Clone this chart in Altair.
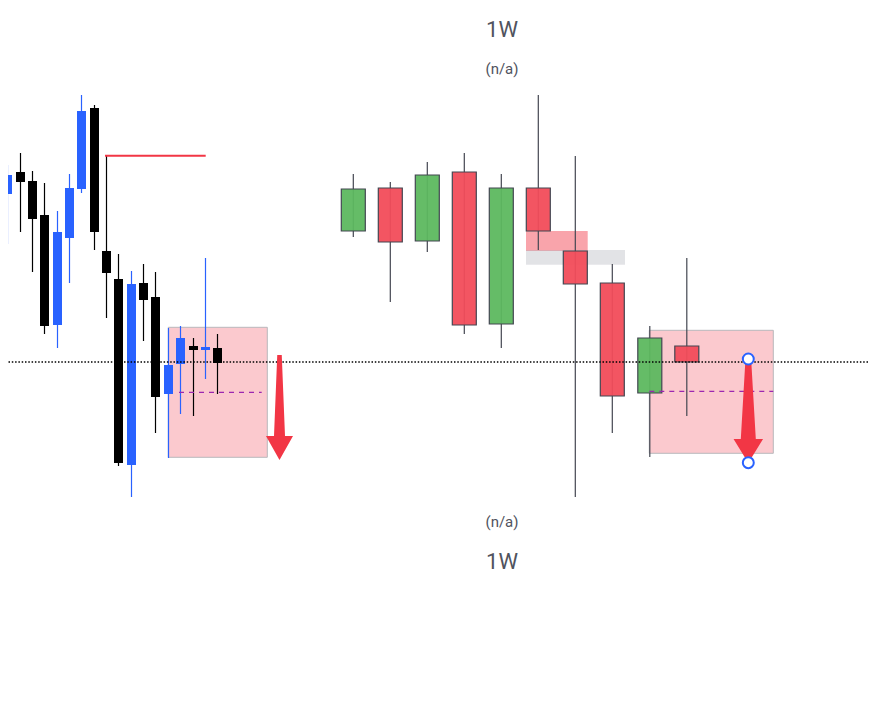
import altair as alt
import pandas as pd

# ---------------- data (price units: higher = up) ----------------
# left panel candles (intraday)
left_x = [7.5, 20.5, 32.5, 44.5, 57.5, 69.5, 81.5, 94.5, 106.5, 118.5,
          131.5, 143.5, 155.5, 168.5, 180.5, 193.5, 205.5, 217.5]
left_open = [514, 536, 527, 493, 383, 470, 519, 600, 457, 429,
             243, 425, 411, 314, 344, 362, 358, 360]
left_high = [543, 555, 537, 525, 497, 534, 613, 603, 552, 454,
             437, 444, 436, 380, 382, 370, 450, 374]
left_low = [464, 476, 436, 374, 360, 425, 515, 458, 390, 242,
            211, 367, 275, 250, 294, 292, 329, 314]
left_close = [533, 526, 489, 382, 476, 520, 597, 476, 435, 245,
              424, 408, 311, 343, 370, 358, 361, 345]

# right panel candles (1W)
right_x = [353.3, 390.3, 427.3, 464.3, 501.3, 538.3, 575.3, 612.3, 649.8, 686.8]
right_open = [477, 520, 467, 536, 384, 520, 457, 425, 315, 362]
right_high = [534, 526, 546, 555, 534, 613, 552, 444, 382, 450]
right_low = [471, 406, 456, 374, 360, 458, 211, 275, 251, 292]
right_close = [519, 466, 533, 383, 520, 477, 424, 312, 370, 346]

# annotations
current_price = [346]
level_x = [105.0]
level_x2 = [205.7]
level_y = [552.3]
box_x = [168.3, 649.3]
box_x2 = [267.3, 773.3]
box_top = [380.7, 377.7]
box_bottom = [250.7, 254.7]
mid_x = [179.0, 649.3]
mid_x2 = [261.7, 773.3]
mid_y = [315.7, 316.7]
zone_x = [526.0, 526.0]
zone_x2 = [587.7, 625.0]
zone_top = [477.0, 458.0]
zone_bottom = [457.0, 443.3]
zone_kind = ["supply", "neutral"]
arrow_x = [279.5, 748.3]
arrow_mid = [300.5, 295.5]
arrow_len = [105, 101]
handle_x = [748.3, 748.3]
handle_y = [349.0, 245.3]
label_text = ["1W", "(n/a)", "(n/a)", "1W"]
label_x = [502, 502, 502, 502]
label_y = [678, 639, 186, 146]
label_size = [22, 15, 15, 22]

# ---------------- frames ----------------
left = pd.DataFrame({"x": left_x, "open": left_open, "high": left_high,
                     "low": left_low, "close": left_close})
left["color"] = ["#2962FF" if c > o else "#000000" for o, c in zip(left_open, left_close)]
right = pd.DataFrame({"x": right_x, "open": right_open, "high": right_high,
                      "low": right_low, "close": right_close})
right["color"] = ["#5DB85F" if c > o else "#F24C5A" for o, c in zip(right_open, right_close)]

W, H = 860, 680
X = alt.Scale(domain=[8, 868], nice=False, zero=False, padding=0)
Y = alt.Scale(domain=[20, 700], nice=False, zero=False, padding=0)


def xq(f):
    return alt.X(f, type="quantitative", scale=X, axis=None)


def yq(f):
    return alt.Y(f, type="quantitative", scale=Y, axis=None)


def arrow_path(h, top_w, bot_w, head_w, head_len):
    s = h / 2.0
    yb = 1 - 2 * head_len / h
    pts = [(-top_w / 2, -1), (top_w / 2, -1), (bot_w / 2, None), (head_w / 2, None),
           (0, 1), (-head_w / 2, None), (-bot_w / 2, None)]
    out = []
    for i, (px, py) in enumerate(pts):
        ux = px / s
        uy = yb if py is None else py
        out.append(("M" if i == 0 else "L") + f"{ux:.4f},{uy:.4f}")
    return " ".join(out) + " Z"


zones = pd.DataFrame({"x": zone_x, "x2": zone_x2, "t": zone_top, "b": zone_bottom,
                      "kind": zone_kind})
zone_layer = alt.Chart(zones).mark_rect().encode(
    x=xq("x"), x2="x2", y=yq("t"), y2="b",
    fill=alt.Fill("kind:N", scale=alt.Scale(domain=["supply", "neutral"],
                                            range=["#F23645", "#B2B5BE"]), legend=None),
    opacity=alt.Opacity("kind:N", scale=alt.Scale(domain=["supply", "neutral"],
                                                  range=[0.45, 0.38]), legend=None),
)

boxes = pd.DataFrame({"x": box_x, "x2": box_x2, "t": box_top, "b": box_bottom})
box_layer = alt.Chart(boxes).mark_rect(fill="#FBC9CE", stroke="#B8B8BC", strokeWidth=1).encode(
    x=xq("x"), x2="x2", y=yq("t"), y2="b")

left_wick = alt.Chart(left).mark_rule(strokeWidth=1.2).encode(
    x=xq("x"), y=yq("high"), y2="low", color=alt.Color("color:N", scale=None))
left_body = alt.Chart(left).mark_bar(size=9).encode(
    x=xq("x"), y=yq("open"), y2="close", color=alt.Color("color:N", scale=None))

right_wick = alt.Chart(right).mark_rule(strokeWidth=1.2, color="#434651").encode(
    x=xq("x"), y=yq("high"), y2="low")
right_body = alt.Chart(right).mark_bar(size=24, stroke="#434651", strokeWidth=1.2,
                                       fillOpacity=0.95).encode(
    x=xq("x"), y=yq("open"), y2="close", fill=alt.Fill("color:N", scale=None))

mids = pd.DataFrame({"x": mid_x, "x2": mid_x2, "y": mid_y})
mid_layer = alt.Chart(mids).mark_rule(color="#9C27B0", strokeWidth=1.3,
                                      strokeDash=[5, 5]).encode(
    x=xq("x"), x2="x2", y=yq("y"))

level = pd.DataFrame({"x": level_x, "x2": level_x2, "y": level_y})
level_layer = alt.Chart(level).mark_rule(color="#F23645", strokeWidth=2).encode(
    x=xq("x"), x2="x2", y=yq("y"))

price_line = alt.Chart(pd.DataFrame({"y": current_price})).mark_rule(
    color="#000000", strokeWidth=1.3, strokeDash=[1.5, 1.8]).encode(y=yq("y"))

arrow_layers = []
arrow_shapes = [arrow_path(105, 4.5, 11, 27, 24), arrow_path(101, 6, 15, 29.5, 24)]
for i in range(2):
    d = pd.DataFrame({"x": [arrow_x[i]], "y": [arrow_mid[i]], "s": [arrow_len[i] ** 2]})
    arrow_layers.append(alt.Chart(d).mark_point(shape=arrow_shapes[i], filled=True,
                                                 color="#F23645", opacity=1).encode(
        x=xq("x"), y=yq("y"), size=alt.Size("s:Q", scale=None)))

handles = pd.DataFrame({"x": handle_x, "y": handle_y})
handle_layer = alt.Chart(handles).mark_point(shape="circle", filled=True, fill="#FFFFFF",
                                             stroke="#2962FF", strokeWidth=2, size=120,
                                             opacity=1).encode(x=xq("x"), y=yq("y"))

labels = pd.DataFrame({"t": label_text, "x": label_x, "y": label_y, "fs": label_size})
label_layer = alt.Chart(labels).mark_text(font="Roboto", color="#50535E",
                                          baseline="middle", align="center").encode(
    x=xq("x"), y=yq("y"), text="t:N", size=alt.Size("fs:Q", scale=None))

chart = alt.layer(
    zone_layer, box_layer, left_wick, left_body, right_wick, right_body,
    mid_layer, level_layer, price_line, *arrow_layers, handle_layer, label_layer
).properties(
    width=W, height=H, padding=0, autosize=alt.AutoSizeParams(type="none")
).configure_view(stroke=None)

chart.save("out.html", embed_options={"renderer": "svg", "actions": False})
